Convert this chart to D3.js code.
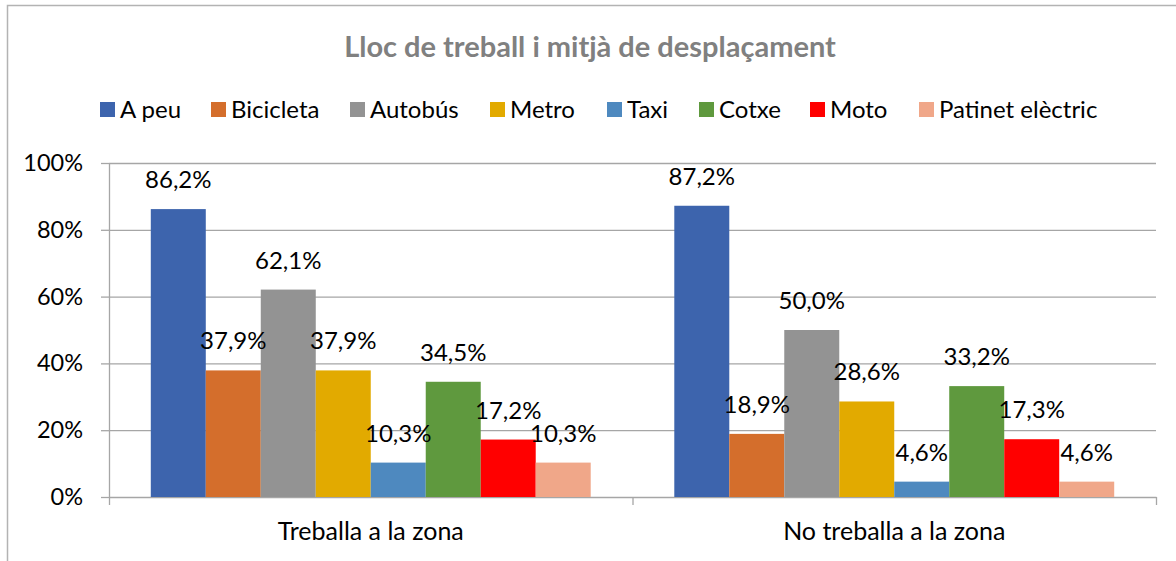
<!DOCTYPE html>
<html>
<head>
<meta charset="utf-8">
<script src="https://cdn.jsdelivr.net/npm/d3@7"></script>
<style>
  body { margin: 0; background: #fff; }
  svg text { font-family: Lato, "Noto Sans", sans-serif; }
  .grid line { stroke: #a6a6a6; stroke-width: 1.3; }
  .grid path { display: none; }
  .axis path, .axis line { stroke: #a6a6a6; stroke-width: 1.3; }
</style>
</head>
<body>
<div id="chart"></div>
<script>
// data
var categories = ["Treballa a la zona", "No treballa a la zona"];
var seriesNames = ["A peu", "Bicicleta", "Autobús", "Metro", "Taxi", "Cotxe", "Moto", "Patinet elèctric"];
var seriesColors = ["#3d64ad", "#d46e2c", "#939393", "#e2aa00", "#4e89bf", "#5f993e", "#ff0000", "#f0a789"];
var treballaValues = [0.862, 0.379, 0.621, 0.379, 0.103, 0.345, 0.172, 0.103];
var noTreballaValues = [0.872, 0.189, 0.500, 0.286, 0.046, 0.332, 0.173, 0.046];
var yTicks = [0, 0.2, 0.4, 0.6, 0.8, 1];

var W = 1176, H = 561;
var plot = { left: 109, right: 1156, top: 163, bottom: 497 };

var svg = d3.select("#chart").append("svg")
    .attr("width", W)
    .attr("height", H);

// chart border
svg.append("rect")
    .attr("x", 7.5).attr("y", 5.5)
    .attr("width", W + 10).attr("height", H + 10)
    .attr("fill", "#fff")
    .attr("stroke", "#b3b3b3")
    .attr("stroke-width", 1.5);

// title
svg.append("text")
    .attr("x", 590).attr("y", 57)
    .attr("text-anchor", "middle")
    .style("font-size", "29px")
    .style("font-weight", "bold")
    .style("fill", "#808080")
    .text("Lloc de treball i mitjà de desplaçament");

// legend
var legendX = [100, 211, 350, 490, 607, 699, 810, 919];
var legend = svg.selectAll(".legend")
    .data(seriesNames)
    .enter().append("g")
    .attr("class", "legend")
    .attr("transform", function(d, i) { return "translate(" + legendX[i] + ",102)"; });
legend.append("rect")
    .attr("width", 15).attr("height", 15)
    .attr("fill", function(d, i) { return seriesColors[i]; });
legend.append("text")
    .attr("x", 20).attr("y", 16)
    .style("font-size", "24px")
    .style("fill", "#000")
    .text(function(d) { return d; });

// scales
var x0 = d3.scaleBand()
    .domain(categories)
    .range([plot.left, plot.right]);
var x1 = d3.scaleBand()
    .domain(seriesNames)
    .range([0, x0.bandwidth()])
    .paddingInner(0)
    .paddingOuter(0.76);
var y = d3.scaleLinear()
    .domain([0, 1])
    .range([plot.bottom, plot.top]);

// gridlines
svg.append("g")
    .attr("class", "grid")
    .attr("transform", "translate(" + plot.left + ",0)")
    .call(d3.axisLeft(y).tickValues(yTicks.slice(1)).tickSize(-(plot.right - plot.left)).tickFormat(""));

// y axis
var yAxis = svg.append("g")
    .attr("class", "axis")
    .attr("transform", "translate(" + plot.left + ",0)")
    .call(d3.axisLeft(y).tickValues(yTicks).tickSize(8).tickSizeOuter(0).tickPadding(18)
        .tickFormat(d3.format(".0%")));
yAxis.selectAll("text")
    .style("font-size", "23.5px")
    .style("fill", "#000");

// x axis: separators and category labels
var xSep = d3.scaleLinear().domain([0, categories.length]).range([plot.left, plot.right]);
svg.append("g")
    .attr("class", "axis")
    .attr("transform", "translate(0," + plot.bottom + ")")
    .call(d3.axisBottom(xSep).tickValues(d3.range(categories.length + 1)).tickSize(8).tickSizeOuter(0).tickFormat(""));
svg.append("g")
    .attr("transform", "translate(0," + plot.bottom + ")")
    .call(d3.axisBottom(x0).tickSize(0).tickPadding(25))
    .call(function(g) { g.select(".domain").remove(); })
    .selectAll("text")
    .style("font-size", "25px")
    .style("fill", "#000");

// bars
var catalan = d3.formatLocale({ decimal: ",", thousands: ".", grouping: [3], currency: ["", " €"] });
var pct = catalan.format(".1%");
var rows = [treballaValues, noTreballaValues].map(function(vals, c) {
  return { category: categories[c], values: vals.map(function(v, i) { return { name: seriesNames[i], value: v, color: seriesColors[i] }; }) };
});

var groups = svg.selectAll(".group")
    .data(rows)
    .enter().append("g")
    .attr("class", "group")
    .attr("transform", function(d) { return "translate(" + x0(d.category) + ",0)"; });

groups.selectAll("rect")
    .data(function(d) { return d.values; })
    .enter().append("rect")
    .attr("x", function(d) { return x1(d.name); })
    .attr("y", function(d) { return y(d.value); })
    .attr("width", x1.bandwidth())
    .attr("height", function(d) { return y(0) - y(d.value); })
    .attr("fill", function(d) { return d.color; });

groups.selectAll(".label")
    .data(function(d) { return d.values; })
    .enter().append("text")
    .attr("class", "label")
    .attr("x", function(d) { return x1(d.name) + x1.bandwidth() / 2; })
    .attr("y", function(d) { return y(d.value) - 21; })
    .attr("text-anchor", "middle")
    .style("font-size", "24px")
    .style("fill", "#000")
    .text(function(d) { return pct(d.value); });
</script>
</body>
</html>
